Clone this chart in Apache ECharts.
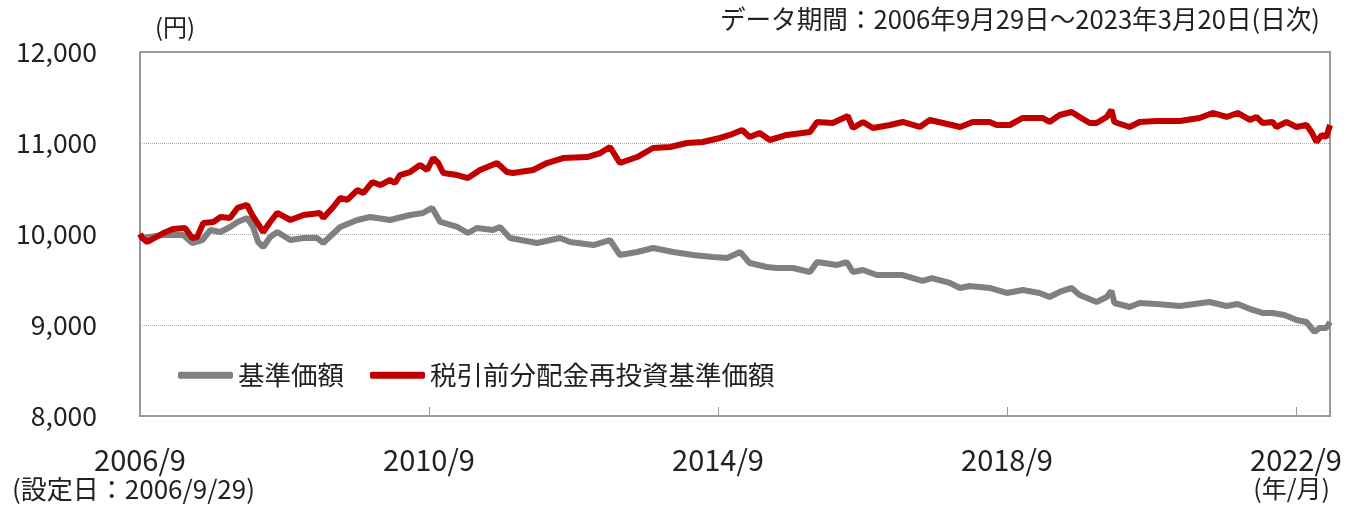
<!DOCTYPE html>
<html>
<head>
<meta charset="utf-8">
<script src="https://cdn.jsdelivr.net/npm/echarts@6/dist/echarts.min.js"></script>
<style>
  html, body { margin: 0; padding: 0; background: #fff; }
  #chart { width: 1358px; height: 505px; }
</style>
</head>
<body>
<div id="chart"></div>
<script>
const START = '2006-09-29';
const END = '2023-03-20';
const FONT = '"Noto Sans CJK JP", "Noto Sans", sans-serif';

// 基準価額
const navDates = [
  '2006-09-29', '2006-10-10', '2007-01-25', '2007-05-05', '2007-06-20', '2007-08-10', '2007-09-20',
  '2007-11-10', '2007-12-28', '2008-02-04', '2008-03-23', '2008-04-23', '2008-05-18', '2008-06-13',
  '2008-07-18', '2008-08-23', '2008-10-28', '2009-01-03', '2009-03-12', '2009-04-12', '2009-07-07',
  '2009-10-02', '2009-12-06', '2010-03-16', '2010-06-25', '2010-08-30', '2010-10-15', '2010-11-25',
  '2011-02-19', '2011-04-14', '2011-05-29', '2011-08-18', '2011-09-23', '2011-11-13', '2012-03-28',
  '2012-07-22', '2012-09-12', '2013-01-07', '2013-04-01', '2013-05-21', '2013-08-16', '2013-11-05',
  '2014-02-15', '2014-05-25', '2014-09-04', '2014-11-14', '2015-01-19', '2015-03-08', '2015-06-03',
  '2015-07-23', '2015-10-12', '2016-01-07', '2016-02-12', '2016-05-21', '2016-07-11', '2016-08-11',
  '2016-10-01', '2016-12-10', '2017-04-20', '2017-07-29', '2017-09-14', '2017-12-14', '2018-02-04',
  '2018-03-24', '2018-07-03', '2018-09-28', '2018-12-18', '2019-03-12', '2019-05-02', '2019-06-22',
  '2019-08-22', '2019-10-01', '2019-12-26', '2020-02-15', '2020-03-10', '2020-03-25', '2020-06-10',
  '2020-07-30', '2020-10-25', '2021-02-19', '2021-07-18', '2021-10-13', '2021-12-08', '2022-02-22',
  '2022-04-13', '2022-06-02', '2022-08-02', '2022-10-02', '2022-11-21', '2023-01-01', '2023-01-26',
  '2023-03-01', '2023-03-20'
];
const navValues = [
  10000, 9956, 9989, 9989, 9901, 9934, 10044,
  10022, 10077, 10132, 10176, 10077, 9912, 9857,
  9967, 10022, 9934, 9956, 9956, 9901, 10077,
  10154, 10187, 10154, 10209, 10231, 10286, 10132,
  10077, 10011, 10066, 10044, 10077, 9956, 9901,
  9956, 9912, 9879, 9934, 9769, 9802, 9846,
  9802, 9769, 9747, 9736, 9802, 9681, 9637,
  9626, 9626, 9582, 9692, 9659, 9692, 9582,
  9604, 9549, 9549, 9484, 9516, 9462, 9407,
  9429, 9407, 9352, 9385, 9352, 9308, 9363,
  9407, 9330, 9253, 9308, 9374, 9242, 9198,
  9242, 9231, 9209, 9253, 9209, 9231, 9165,
  9132, 9132, 9110, 9055, 9033, 8923, 8967,
  8967, 9033
];

// 税引前分配金再投資基準価額
const reinvDates = [
  '2006-09-29', '2006-10-10', '2006-11-05', '2007-01-25', '2007-03-15', '2007-05-15', '2007-06-20',
  '2007-07-15', '2007-08-15', '2007-10-05', '2007-11-10', '2007-12-28', '2008-02-04', '2008-03-23',
  '2008-04-18', '2008-06-13', '2008-07-18', '2008-08-23', '2008-10-28', '2009-01-03', '2009-03-27',
  '2009-04-12', '2009-06-02', '2009-07-07', '2009-08-12', '2009-10-02', '2009-11-01', '2009-12-16',
  '2010-01-26', '2010-03-16', '2010-04-10', '2010-05-05', '2010-06-25', '2010-08-15', '2010-09-20',
  '2010-10-20', '2010-11-15', '2010-12-10', '2011-02-19', '2011-04-14', '2011-06-14', '2011-09-08',
  '2011-10-28', '2011-11-28', '2012-03-08', '2012-05-17', '2012-08-07', '2012-12-06', '2013-02-11',
  '2013-04-01', '2013-05-21', '2013-08-16', '2013-11-05', '2014-01-30', '2014-04-25', '2014-07-14',
  '2014-10-09', '2014-11-29', '2015-01-29', '2015-03-08', '2015-04-28', '2015-06-18', '2015-09-12',
  '2016-01-07', '2016-02-12', '2016-05-01', '2016-07-16', '2016-08-11', '2016-10-01', '2016-11-20',
  '2017-02-15', '2017-04-20', '2017-07-15', '2017-09-04', '2017-11-09', '2018-02-04', '2018-04-09',
  '2018-07-03', '2018-08-08', '2018-10-13', '2018-12-18', '2019-03-27', '2019-05-02', '2019-06-22',
  '2019-08-22', '2019-10-01', '2019-11-21', '2019-12-26', '2020-02-15', '2020-03-10', '2020-03-25',
  '2020-06-10', '2020-07-30', '2020-10-25', '2021-02-19', '2021-05-29', '2021-08-04', '2021-10-13',
  '2021-12-08', '2022-02-08', '2022-03-13', '2022-04-13', '2022-06-02', '2022-06-22', '2022-08-12',
  '2022-10-02', '2022-11-21', '2022-12-16', '2023-01-11', '2023-02-06', '2023-03-01', '2023-03-20'
];
const reinvValues = [
  10000, 9956, 9912, 10011, 10055, 10066, 9956,
  9967, 10121, 10132, 10187, 10176, 10286, 10319,
  10209, 10022, 10132, 10231, 10154, 10209, 10231,
  10176, 10297, 10396, 10374, 10483, 10450, 10571,
  10538, 10593, 10560, 10648, 10681, 10758, 10703,
  10835, 10780, 10670, 10648, 10615, 10703, 10780,
  10681, 10670, 10703, 10780, 10835, 10846, 10890,
  10956, 10780, 10846, 10945, 10956, 11000, 11011,
  11055, 11088, 11143, 11066, 11110, 11033, 11088,
  11121, 11231, 11220, 11297, 11165, 11231, 11165,
  11198, 11231, 11176, 11253, 11220, 11176, 11231,
  11231, 11198, 11198, 11275, 11275, 11231, 11308,
  11341, 11286, 11220, 11220, 11286, 11363, 11231,
  11176, 11231, 11242, 11242, 11275, 11330, 11286,
  11330, 11253, 11286, 11220, 11231, 11176, 11231,
  11176, 11198, 11121, 11011, 11088, 11066, 11198
];

const yTicks = [8000, 9000, 10000, 11000, 12000];
const xTickLabels = ['2006/9', '2010/9', '2014/9', '2018/9', '2022/9'];
const TICK_DAYS = 1461; // 4年

function dayOf(d) {
  return Math.round((Date.parse(d) - Date.parse(START)) / 864e5);
}

function pairs(dates, values) {
  return dates.map((d, i) => [dayOf(d), values[i]]);
}

const chart = echarts.init(document.getElementById('chart'));

chart.setOption({
  animation: false,
  textStyle: { fontFamily: FONT },
  grid: {
    left: 140,
    right: 28,
    top: 52,
    bottom: 89,
    show: true,
    borderColor: '#999',
    borderWidth: 2,
  },
  legend: {
    left: 178,
    top: 362,
    padding: 0,
    icon: 'roundRect',
    itemWidth: 55,
    itemHeight: 7,
    itemGap: 26,
    textStyle: { fontSize: 26.5, color: '#222', fontFamily: FONT },
    data: ['基準価額', '税引前分配金再投資基準価額'],
  },
  xAxis: {
    type: 'value',
    min: 0,
    max: dayOf(END),
    interval: TICK_DAYS,
    axisLine: { lineStyle: { color: '#999', width: 2 } },
    axisTick: { inside: true, length: 9, lineStyle: { color: '#999', width: 1 } },
    splitLine: { show: false },
    axisLabel: {
      margin: 29,
      fontSize: 29,
      color: '#222',
      fontFamily: FONT,
      formatter: (v) => {
        const idx = v / TICK_DAYS;
        return Number.isInteger(idx) && xTickLabels[idx] ? xTickLabels[idx] : '';
      },
    },
  },
  yAxis: {
    type: 'value',
    min: yTicks[0],
    max: yTicks[yTicks.length - 1],
    interval: 1000,
    axisLine: { show: true, lineStyle: { color: '#999', width: 2 } },
    axisTick: { show: false },
    splitLine: { lineStyle: { color: '#aaa', type: 'dotted', width: 1 } },
    axisLabel: {
      margin: 43,
      fontSize: 26.5,
      color: '#222',
      fontFamily: FONT,
      formatter: (v) => v.toLocaleString('en-US'),
    },
  },
  graphic: [
    {
      type: 'text',
      left: 155,
      top: 15,
      style: { text: '(円)', fontSize: 24, fill: '#222', fontFamily: FONT },
    },
    {
      type: 'text',
      right: 38,
      top: 6,
      style: { text: 'データ期間：2006年9月29日～2023年3月20日(日次)', fontSize: 25.6, fill: '#222', fontFamily: FONT },
    },
    {
      type: 'text',
      left: 12,
      top: 476,
      style: { text: '(設定日：2006/9/29)', fontSize: 26, fill: '#222', fontFamily: FONT },
    },
    {
      type: 'text',
      right: 28,
      top: 476,
      style: { text: '(年/月)', fontSize: 25, fill: '#222', fontFamily: FONT },
    },
  ],
  series: [
    {
      name: '基準価額',
      type: 'line',
      data: pairs(navDates, navValues),
      showSymbol: false,
      symbol: 'none',
      color: '#808080',
      lineStyle: { color: '#808080', width: 6 },
      z: 2,
    },
    {
      name: '税引前分配金再投資基準価額',
      type: 'line',
      data: pairs(reinvDates, reinvValues),
      showSymbol: false,
      symbol: 'none',
      color: '#c00000',
      lineStyle: { color: '#c00000', width: 6 },
      z: 3,
    },
  ],
});
</script>
</body>
</html>
